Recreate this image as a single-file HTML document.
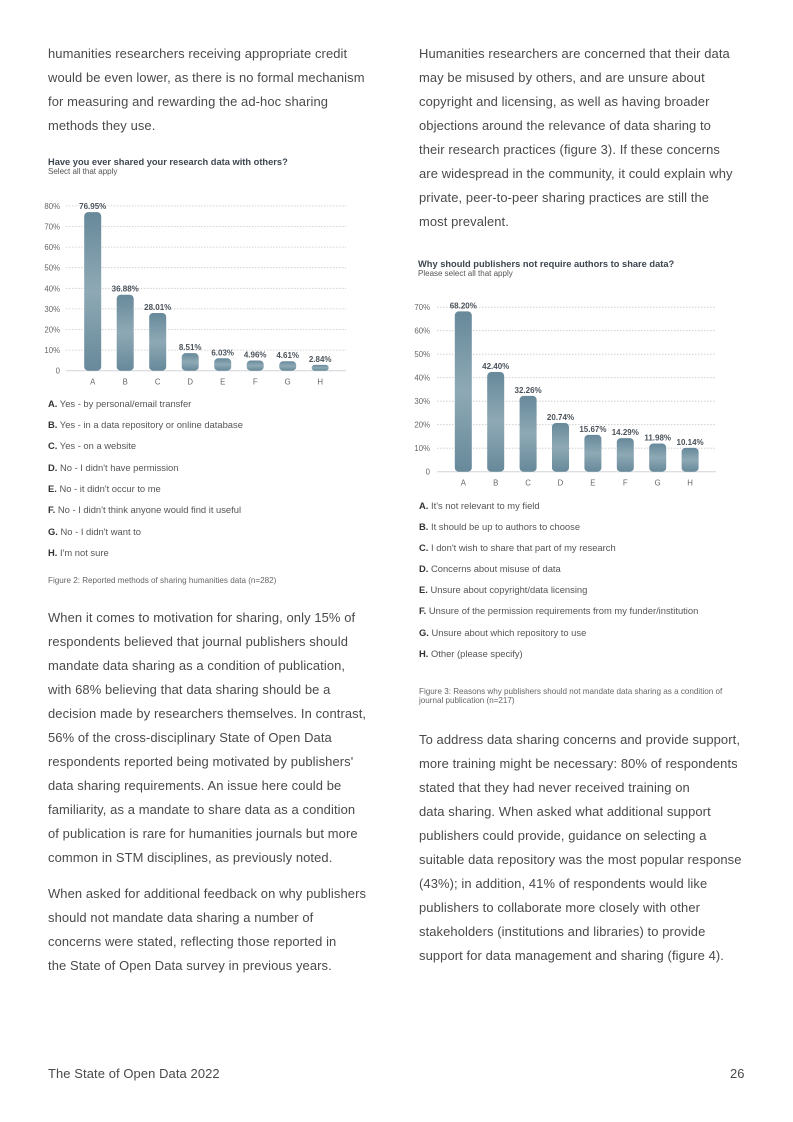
<!DOCTYPE html>
<html><head><meta charset="utf-8">
<style>
body{margin:0;width:793px;height:1122px;background:#fff;position:relative;font-family:"Liberation Sans",sans-serif;color:#4a4a4a;overflow:hidden}
.t{position:absolute;font-size:12.95px;white-space:nowrap;letter-spacing:0.1px}
.lg{position:absolute;font-size:9.4px;white-space:nowrap;color:#555}
.lg b{color:#333}
.cap{position:absolute;font-size:8.1px;color:#666;line-height:9px;white-space:nowrap}
svg{position:absolute;left:0;top:0}
</style></head><body>
<div>
<div class="t" style="left:48px;top:46px">humanities researchers receiving appropriate credit</div>
<div class="t" style="left:48px;top:70px">would be even lower, as there is no formal mechanism</div>
<div class="t" style="left:48px;top:94px">for measuring and rewarding the ad-hoc sharing</div>
<div class="t" style="left:48px;top:118px">methods they use.</div>
</div>
<div>
<div class="t" style="left:419px;top:46px">Humanities researchers are concerned that their data</div>
<div class="t" style="left:419px;top:70px">may be misused by others, and are unsure about</div>
<div class="t" style="left:419px;top:94px">copyright and licensing, as well as having broader</div>
<div class="t" style="left:419px;top:118px">objections around the relevance of data sharing to</div>
<div class="t" style="left:419px;top:142px">their research practices (figure 3). If these concerns</div>
<div class="t" style="left:419px;top:166px">are widespread in the community, it could explain why</div>
<div class="t" style="left:419px;top:190px">private, peer-to-peer sharing practices are still the</div>
<div class="t" style="left:419px;top:214px">most prevalent.</div>
</div>

<svg width="793" height="1122">
<defs>
<linearGradient id="g" x1="0" y1="0" x2="0" y2="1">
<stop offset="0" stop-color="#67899a"/><stop offset="0.5" stop-color="#8ea9b5"/><stop offset="1" stop-color="#67899a"/>
</linearGradient>
</defs>
<g id="c1"></g>
<g id="c2"></g>
</svg>

<div>
<div class="lg" style="left:48px;top:398px"><b>A.</b> Yes - by personal/email transfer</div>
<div class="lg" style="left:48px;top:419px"><b>B.</b> Yes - in a data repository or online database</div>
<div class="lg" style="left:48px;top:440px"><b>C.</b> Yes - on a website</div>
<div class="lg" style="left:48px;top:462px"><b>D.</b> No - I didn't have permission</div>
<div class="lg" style="left:48px;top:483px"><b>E.</b> No - it didn't occur to me</div>
<div class="lg" style="left:48px;top:504px"><b>F.</b> No - I didn't think anyone would find it useful</div>
<div class="lg" style="left:48px;top:526px"><b>G.</b> No - I didn't want to</div>
<div class="lg" style="left:48px;top:547px"><b>H.</b> I'm not sure</div>
</div>
<div class="cap" style="left:48px;top:576px">Figure 2: Reported methods of sharing humanities data (n=282)</div>

<div>
<div class="lg" style="left:419px;top:500px"><b>A.</b> It's not relevant to my field</div>
<div class="lg" style="left:419px;top:521px"><b>B.</b> It should be up to authors to choose</div>
<div class="lg" style="left:419px;top:542px"><b>C.</b> I don't wish to share that part of my research</div>
<div class="lg" style="left:419px;top:563px"><b>D.</b> Concerns about misuse of data</div>
<div class="lg" style="left:419px;top:584px"><b>E.</b> Unsure about copyright/data licensing</div>
<div class="lg" style="left:419px;top:605px"><b>F.</b> Unsure of the permission requirements from my funder/institution</div>
<div class="lg" style="left:419px;top:627px"><b>G.</b> Unsure about which repository to use</div>
<div class="lg" style="left:419px;top:648px"><b>H.</b> Other (please specify)</div>
</div>
<div class="cap" style="left:419px;top:687px">Figure 3: Reasons why publishers should not mandate data sharing as a condition of<br>journal publication (n=217)</div>

<div>
<div class="t" style="left:48px;top:610px">When it comes to motivation for sharing, only 15% of</div>
<div class="t" style="left:48px;top:634px">respondents believed that journal publishers should</div>
<div class="t" style="left:48px;top:658px">mandate data sharing as a condition of publication,</div>
<div class="t" style="left:48px;top:682px">with 68% believing that data sharing should be a</div>
<div class="t" style="left:48px;top:706px">decision made by researchers themselves. In contrast,</div>
<div class="t" style="left:48px;top:730px">56% of the cross-disciplinary State of Open Data</div>
<div class="t" style="left:48px;top:754px">respondents reported being motivated by publishers'</div>
<div class="t" style="left:48px;top:778px">data sharing requirements. An issue here could be</div>
<div class="t" style="left:48px;top:802px">familiarity, as a mandate to share data as a condition</div>
<div class="t" style="left:48px;top:826px">of publication is rare for humanities journals but more</div>
<div class="t" style="left:48px;top:850px">common in STM disciplines, as previously noted.</div>
<div class="t" style="left:48px;top:886px">When asked for additional feedback on why publishers</div>
<div class="t" style="left:48px;top:910px">should not mandate data sharing a number of</div>
<div class="t" style="left:48px;top:934px">concerns were stated, reflecting those reported in</div>
<div class="t" style="left:48px;top:958px">the State of Open Data survey in previous years.</div>
</div>
<div>
<div class="t" style="left:419px;top:732px">To address data sharing concerns and provide support,</div>
<div class="t" style="left:419px;top:756px">more training might be necessary: 80% of respondents</div>
<div class="t" style="left:419px;top:780px">stated that they had never received training on</div>
<div class="t" style="left:419px;top:804px">data sharing. When asked what additional support</div>
<div class="t" style="left:419px;top:828px">publishers could provide, guidance on selecting a</div>
<div class="t" style="left:419px;top:852px">suitable data repository was the most popular response</div>
<div class="t" style="left:419px;top:876px">(43%); in addition, 41% of respondents would like</div>
<div class="t" style="left:419px;top:900px">publishers to collaborate more closely with other</div>
<div class="t" style="left:419px;top:924px">stakeholders (institutions and libraries) to provide</div>
<div class="t" style="left:419px;top:948px">support for data management and sharing (figure 4).</div>
</div>
<div class="t" style="left:48px;top:1066px">The State of Open Data 2022</div>
<div class="t" style="left:730px;top:1066px">26</div>

<script>
const cats1=["A","B","C","D","E","F","G","H"];
const vals1=[76.95,36.88,28.01,8.51,6.03,4.96,4.61,2.84];
const ticks1=[0,10,20,30,40,50,60,70,80];
const cats2=["A","B","C","D","E","F","G","H"];
const vals2=[68.20,42.40,32.26,20.74,15.67,14.29,11.98,10.14];
const ticks2=[0,10,20,30,40,50,60,70];
const NS="http://www.w3.org/2000/svg";
function mk(p,tag,at,txt){const e=document.createElementNS(NS,tag);for(const k in at)e.setAttribute(k,at[k]);if(txt!==undefined)e.textContent=txt;p.appendChild(e);return e;}
function chart(id,o,cats,vals,ticks){
  const g=document.getElementById(id);
  const y=v=>o.y0-(v/10)*o.step;
  const x=i=>o.xA+i*o.dx;
  const t1=mk(g,'text',{x:o.tx,y:o.ty,'font-size':9.3,'font-weight':'bold',fill:'#3d4650','font-family':'Liberation Sans'},o.title);
  
  
  const t2=mk(g,'text',{x:o.tx,y:o.ty+9,'font-size':8,fill:'#555','font-family':'Liberation Sans'},o.sub);
  
  
  ticks.forEach(t=>{
    if(t>0){const l=mk(g,'line',{x1:o.x1,x2:o.x2,y1:y(t),y2:y(t),stroke:'#c8c8c8','stroke-width':0.8,'stroke-dasharray':'1.5,1.5'});
    
    }
    const tl=mk(g,'text',{x:o.lx,y:y(t)+3,'font-size':7.8,fill:'#666','text-anchor':'end','font-family':'Liberation Sans'},t===0?'0':t+'%');
    
    
  });
  const ax=mk(g,'line',{x1:o.x1,x2:o.x2,y1:o.y0,y2:o.y0,stroke:'#d0d4d8','stroke-width':1});
  
  
  vals.forEach((v,i)=>{
    const h=o.y0-y(v);
    const b=mk(g,'rect',{x:x(i)-8.5,y:y(v),width:17,height:h,rx:Math.min(4,h/2),fill:'url(#g)'});
    
    
    const vl=mk(g,'text',{x:x(i),y:y(v)-3,'font-size':8,'font-weight':'bold',fill:'#4a525a','text-anchor':'middle','font-family':'Liberation Sans'},v.toFixed(2)+'%');
    
    
    const cl=mk(g,'text',{x:x(i),y:o.y0+14,'font-size':7.8,fill:'#666','text-anchor':'middle','font-family':'Liberation Sans'},cats[i]);
    
    
  });
}
chart('c1',{y0:370.7,step:20.6,xA:92.7,dx:32.5,x1:66,x2:346,lx:60,tx:48,ty:165,title:'Have you ever shared your research data with others?',sub:'Select all that apply'},cats1,vals1,ticks1);
chart('c2',{y0:471.7,step:23.5,xA:463.3,dx:32.4,x1:437,x2:716,lx:430,tx:418,ty:267,title:'Why should publishers not require authors to share data?',sub:'Please select all that apply'},cats2,vals2,ticks2);
</script>
</body></html>
